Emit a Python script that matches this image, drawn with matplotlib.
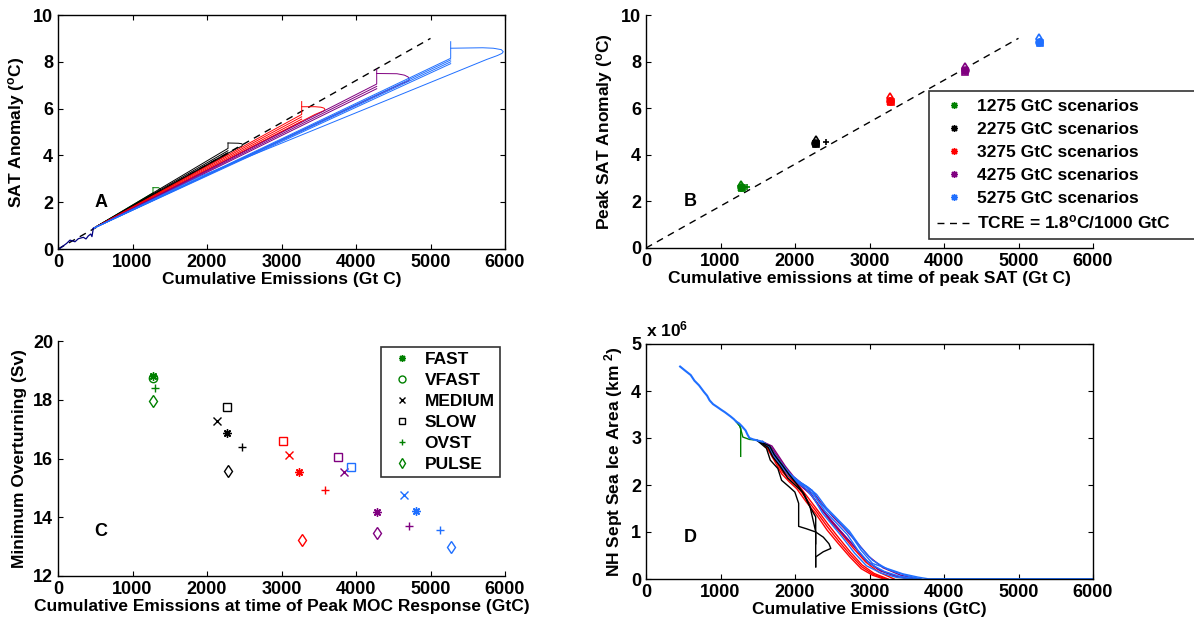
import matplotlib.pyplot as plt
from matplotlib.lines import Line2D

plt.rcParams['font.family'] = ['Liberation Sans', 'DejaVu Sans']
plt.rcParams['font.weight'] = 'bold'
plt.rcParams['axes.labelweight'] = 'bold'
plt.rcParams['mathtext.default'] = 'regular'
plt.rcParams['font.size'] = 12.5
plt.rcParams['axes.linewidth'] = 1.0
plt.rcParams['xtick.direction'] = 'in'
plt.rcParams['ytick.direction'] = 'in'
plt.rcParams['xtick.major.size'] = 3.5
plt.rcParams['ytick.major.size'] = 3.5
plt.rcParams['xtick.labelsize'] = 13
plt.rcParams['ytick.labelsize'] = 13

GREEN = '#008000'
BLACK = '#000000'
RED = '#ff0000'
PURPLE = '#800080'
BLUE = '#1f6fff'
NAVY = '#000080'
ASTER = (8, 2, 0)

# ---------------- data ----------------
tcre_e = [0, 5000]
tcre_t = [0, 9.0]

# panel A: SAT anomaly vs cumulative emissions
hist_e = [0, 27, 116, 161, 228, 273, 340, 376, 407, 439, 456, 474]
hist_t = [0, 0.03, 0.24, 0.38, 0.31, 0.44, 0.50, 0.43, 0.56, 0.64, 0.53, 0.88]

sat1275 = [([1275, 1275], [2.40, 2.62]), ([1275], [2.35]),
           ([1330, 1365, 1375, 1350, 1275], [2.45, 2.50, 2.56, 2.62, 2.62])]
sat2275 = [([2282, 2282], [4.30, 4.53]), ([2282], [4.20]), ([2282], [4.12]), ([2282], [4.05]),
           ([2400, 2460, 2479, 2465, 2420, 2282], [4.30, 4.38, 4.45, 4.50, 4.52, 4.53])]
sat3275 = [([3271, 3271], [5.75, 6.30]), ([3271], [5.65]), ([3271], [5.55]), ([3271], [5.45]),
           ([3450, 3540, 3575, 3584, 3570, 3530, 3450, 3271],
            [5.75, 5.87, 5.92, 5.97, 6.02, 6.06, 6.08, 6.08])]
sat4275 = [([4278, 4278], [7.05, 7.68]), ([4278], [6.95]), ([4278], [6.85]),
           ([4600, 4680, 4712, 4715, 4700, 4650, 4550, 4278],
            [7.05, 7.15, 7.20, 7.25, 7.35, 7.43, 7.49, 7.50])]
sat5275 = [([5271, 5271], [8.15, 8.86]), ([5271], [8.08]), ([5271], [8.00]), ([5271], [7.92]),
           ([1906, 5754, 5900, 5960, 5977, 5950, 5843, 5700, 5271],
            [3.10, 8.10, 8.27, 8.36, 8.43, 8.52, 8.58, 8.60, 8.58])]

# panel B / C scenario order: FAST, VFAST, MEDIUM, SLOW, OVST, PULSE
groups = ['1275', '2275', '3275', '4275', '5275']
group_colors = [GREEN, BLACK, RED, PURPLE, BLUE]
scen_names = ['FAST', 'VFAST', 'MEDIUM', 'SLOW', 'OVST', 'PULSE']
scen_markers = [ASTER, 'o', 'x', 's', '+', 'd']

peak_e_1275 = [1275, 1272, 1278, 1285, 1350, 1275]
peak_t_1275 = [2.62, 2.60, 2.58, 2.56, 2.62, 2.66]
peak_e_2275 = [2278, 2275, 2280, 2285, 2416, 2278]
peak_t_2275 = [4.52, 4.50, 4.48, 4.45, 4.54, 4.60]
peak_e_3275 = [3275, 3272, 3278, 3282, 3280, 3275]
peak_t_3275 = [6.34, 6.30, 6.28, 6.25, 6.36, 6.42]
peak_e_4275 = [4282, 4278, 4285, 4288, 4284, 4280]
peak_t_4275 = [7.65, 7.62, 7.60, 7.57, 7.66, 7.73]
peak_e_5275 = [5281, 5278, 5284, 5288, 5285, 5280]
peak_t_5275 = [8.86, 8.83, 8.80, 8.78, 8.87, 8.95]

nan = float('nan')
moc_e_fast = [1274, 2271, 3241, 4279, 4803]
moc_v_fast = [18.81, 16.86, 15.55, 14.18, 14.20]
moc_e_vfast = [1276, nan, nan, nan, nan]
moc_v_vfast = [18.74, nan, nan, nan, nan]
moc_e_medium = [nan, 2137, 3098, 3843, 4649]
moc_v_medium = [nan, 17.27, 16.12, 15.53, 14.75]
moc_e_slow = [nan, 2265, 3021, 3765, 3935]
moc_v_slow = [nan, 17.75, 16.61, 16.05, 15.70]
moc_e_ovst = [1300, 2476, 3586, 4706, 5127]
moc_v_ovst = [18.41, 16.40, 14.92, 13.69, 13.58]
moc_e_pulse = [1274, 2276, 3277, 4279, 5281]
moc_v_pulse = [17.97, 15.57, 13.21, 13.45, 12.99]

# panel D: NH September sea ice area (10^6 km2)
trunk_e = [458, 520, 600, 650, 712, 778, 820, 854, 900, 956, 1010, 1058, 1134, 1180, 1210,
           1250, 1287, 1337, 1360, 1388, 1440, 1490, 1566]
trunk_a = [4.52, 4.44, 4.34, 4.22, 4.12, 3.98, 3.90, 3.80, 3.72, 3.66, 3.60, 3.55, 3.46, 3.40, 3.35,
           3.31, 3.25, 3.16, 3.08, 3.00, 2.97, 2.95, 2.92]

ice_green = [([1210, 1261, 1271, 1271], [3.35, 3.25, 3.20, 2.61]),
             ([1210, 1261, 1300, 1388, 1450], [3.35, 3.25, 3.02, 2.97, 2.96])]
ice_black = [([1490, 1617, 1668, 1770, 1820, 1922, 1998, 2049, 2049, 2151, 2278, 2380, 2456, 2481, 2380, 2278, 2278],
              [2.95, 2.78, 2.53, 2.35, 2.10, 1.96, 1.85, 1.61, 1.12, 1.07, 1.00, 0.89, 0.75, 0.65, 0.58, 0.47, 0.26]),
             ([1490, 1640, 1700, 1800, 1900, 2000, 2100, 2202, 2278, 2278],
              [2.95, 2.80, 2.60, 2.40, 2.15, 2.00, 1.85, 1.53, 1.32, 0.26]),
             ([1490, 1660, 1720, 1830, 1922, 2024, 2126, 2200, 2253, 2278, 2278],
              [2.95, 2.83, 2.65, 2.42, 2.22, 2.02, 1.80, 1.55, 1.18, 1.00, 0.75])]
ice_red = [([1566, 1642, 1719, 1820, 1922, 2024, 2151, 2278, 2431, 2583, 2736, 2888, 3041, 3193],
            [2.92, 2.74, 2.53, 2.24, 2.07, 1.92, 1.64, 1.39, 1.04, 0.75, 0.47, 0.22, 0.08, 0.0]),
           ([1566, 1650, 1730, 1830, 1935, 2040, 2165, 2290, 2440, 2590, 2745, 2895, 3050, 3220],
            [2.92, 2.75, 2.55, 2.28, 2.10, 1.95, 1.68, 1.43, 1.10, 0.80, 0.51, 0.26, 0.10, 0.0]),
           ([1566, 1660, 1740, 1840, 1950, 2060, 2180, 2300, 2450, 2600, 2750, 2900, 3060, 3250],
            [2.92, 2.76, 2.58, 2.32, 2.12, 1.97, 1.72, 1.47, 1.15, 0.85, 0.56, 0.30, 0.12, 0.0]),
           ([1566, 1680, 1760, 1860, 1970, 2090, 2210, 2330, 2480, 2630, 2780, 2950, 3120, 3330],
            [2.92, 2.80, 2.62, 2.38, 2.16, 2.00, 1.80, 1.55, 1.22, 0.95, 0.66, 0.36, 0.15, 0.0])]
ice_purple = [([1566, 1670, 1750, 1850, 1960, 2070, 2200, 2320, 2470, 2620, 2780, 2940, 3120, 3350, 3550],
               [2.92, 2.82, 2.62, 2.38, 2.15, 2.00, 1.85, 1.56, 1.28, 1.00, 0.72, 0.42, 0.20, 0.06, 0.0]),
              ([1566, 1690, 1770, 1870, 1980, 2100, 2230, 2350, 2500, 2660, 2820, 2990, 3180, 3420, 3650],
               [2.92, 2.83, 2.64, 2.40, 2.18, 2.02, 1.88, 1.62, 1.34, 1.08, 0.80, 0.48, 0.24, 0.08, 0.0]),
              ([1566, 1675, 1755, 1858, 1965, 2080, 2210, 2335, 2485, 2640, 2800, 2965, 3150, 3380, 3600],
               [2.92, 2.80, 2.60, 2.35, 2.13, 1.98, 1.80, 1.52, 1.24, 0.97, 0.68, 0.38, 0.17, 0.05, 0.0])]
ice_blue = [([1566, 1668, 1719, 1820, 1922, 2024, 2126, 2227, 2304, 2431, 2532, 2634, 2736, 2888, 3041, 3244, 3448, 3651, 3804, 6000],
             [2.92, 2.81, 2.67, 2.46, 2.24, 2.10, 2.00, 1.89, 1.68, 1.46, 1.32, 1.14, 0.97, 0.61, 0.33, 0.22, 0.11, 0.04, 0.0, 0.0]),
            ([1566, 1660, 1730, 1830, 1940, 2050, 2160, 2270, 2400, 2550, 2700, 2850, 3000, 3200, 3400, 3650],
             [2.92, 2.80, 2.62, 2.40, 2.20, 2.05, 1.95, 1.75, 1.45, 1.20, 0.95, 0.60, 0.33, 0.16, 0.06, 0.0]),
            ([1566, 1650, 1725, 1825, 1930, 2040, 2140, 2250, 2370, 2500, 2640, 2800, 2960, 3150, 3350, 3560],
             [2.92, 2.80, 2.60, 2.38, 2.18, 2.04, 1.93, 1.72, 1.40, 1.15, 0.88, 0.55, 0.28, 0.13, 0.04, 0.0]),
            ([1566, 1655, 1735, 1835, 1945, 2060, 2170, 2290, 2420, 2580, 2730, 2880, 3040, 3250, 3480, 3700],
             [2.92, 2.81, 2.63, 2.42, 2.22, 2.07, 1.96, 1.80, 1.52, 1.26, 1.02, 0.68, 0.40, 0.20, 0.08, 0.0])]

# ---------------- figure ----------------
fig = plt.figure(figsize=(11.94, 6.24), dpi=100)
W, H = 1194, 624


def add_axes(l, t, r, b):
    return fig.add_axes([l / W, 1 - b / H, (r - l) / W, (b - t) / H])


axA = add_axes(58, 15, 505, 249)
axB = add_axes(646, 15, 1093, 248)
axC = add_axes(58, 341, 505, 576)
axD = add_axes(646, 344, 1093, 579)

for ax in (axA, axD):
    ax.tick_params(top=True, right=True)
for ax in (axB, axC):
    ax.spines['top'].set_visible(False)
    ax.spines['right'].set_visible(False)

# panel A
axA.plot(tcre_e, tcre_t, '--', color='k', lw=1.0, dashes=(5, 4))
x0, y0 = hist_e[-1], hist_t[-1]
for lines, col in zip([sat1275, sat2275, sat3275, sat4275, sat5275], group_colors):
    for xs, ys in lines:
        axA.plot([x0] + xs, [y0] + ys, color=col, lw=0.7)
axA.plot(hist_e, hist_t, color=NAVY, lw=0.9)
axA.set_xlim(0, 6000)
axA.set_ylim(0, 10)
axA.set_xticks(range(0, 6001, 1000))
axA.set_yticks(range(0, 11, 2))
axA.set_xlabel('Cumulative Emissions (Gt C)', labelpad=1)
axA.set_ylabel('SAT Anomaly ($^o$C)', labelpad=4)
axA.text(580, 2.0, 'A', fontsize=13, fontweight='bold', ha='center', va='center')

# panel B
peak_e = [peak_e_1275, peak_e_2275, peak_e_3275, peak_e_4275, peak_e_5275]
peak_t = [peak_t_1275, peak_t_2275, peak_t_3275, peak_t_4275, peak_t_5275]
axB.plot(tcre_e, tcre_t, '--', color='k', lw=1.0, dashes=(5, 4))
for es, ts, col in zip(peak_e, peak_t, group_colors):
    for e, t, m in zip(es, ts, scen_markers):
        axB.plot(e, t, marker=m, color=col, mfc='none', ms=5, mew=1.2, ls='none')
axB.set_xlim(0, 6000)
axB.set_ylim(0, 10)
axB.set_xticks(range(0, 6001, 1000))
axB.set_yticks(range(0, 11, 2))
axB.set_xlabel('Cumulative emissions at time of peak SAT (Gt C)', labelpad=1)
axB.set_ylabel('Peak SAT Anomaly ($^o$C)', labelpad=4)
axB.text(590, 2.0, 'B', fontsize=13, fontweight='bold', ha='center', va='center')
handlesB = [Line2D([], [], marker=ASTER, color=c, ls='none', ms=5, mew=1.0) for c in group_colors]
handlesB.append(Line2D([], [], color='k', ls='--', lw=1.0, dashes=(5, 4)))
labelsB = [g + ' GtC scenarios' for g in groups] + ['TCRE = 1.8$^o$C/1000 GtC']
legB = fig.legend(handlesB, labelsB, loc='upper left',
                  bbox_to_anchor=(929 / W, 1 - 241 / H, 280 / W, 150 / H), mode='expand',
                  fontsize=12.5, frameon=True, fancybox=False, edgecolor='k',
                  handlelength=2.0, handletextpad=0.3, labelspacing=0.45, borderpad=0.45,
                  borderaxespad=0)
legB.get_frame().set_linewidth(1.2)

# panel C
moc_e = [moc_e_fast, moc_e_vfast, moc_e_medium, moc_e_slow, moc_e_ovst, moc_e_pulse]
moc_v = [moc_v_fast, moc_v_vfast, moc_v_medium, moc_v_slow, moc_v_ovst, moc_v_pulse]
for es, vs, m in zip(moc_e, moc_v, scen_markers):
    for e, v, col in zip(es, vs, group_colors):
        axC.plot(e, v, marker=m, color=col, mfc='none', ms=6, mew=1.0, ls='none')
axC.set_xlim(0, 6000)
axC.set_ylim(12, 20)
axC.set_xticks(range(0, 6001, 1000))
axC.set_yticks(range(12, 21, 2))
axC.set_xlabel('Cumulative Emissions at time of Peak MOC Response (GtC)', labelpad=1)
axC.set_ylabel('Minimum Overturning (Sv)', labelpad=4)
axC.text(580, 13.5, 'C', fontsize=13, fontweight='bold', ha='center', va='center')
legC_colors = [GREEN, GREEN, BLACK, BLACK, GREEN, GREEN]
handlesC = [Line2D([], [], marker=m, color=c, mfc='none', ms=5, mew=1.0, ls='none')
            for m, c in zip(scen_markers, legC_colors)]
legC = fig.legend(handlesC, scen_names, loc='upper left', bbox_to_anchor=(381 / W, 1 - 347 / H),
                  fontsize=12.5, frameon=True, fancybox=False, edgecolor='k',
                  handlelength=1.8, handletextpad=0.4, labelspacing=0.33, borderpad=0.3,
                  borderaxespad=0)
legC.get_frame().set_linewidth(1.2)

# panel D
for lines, col in [(ice_red, RED), (ice_purple, PURPLE), (ice_blue, BLUE),
                   (ice_black, BLACK), (ice_green, GREEN)]:
    for xs, ys in lines:
        axD.plot(xs, ys, color=col, lw=1.0)
axD.plot(trunk_e, trunk_a, color=BLUE, lw=1.5)
axD.plot([3804, 6000], [0, 0], color=BLUE, lw=1.8)
axD.set_xlim(0, 6000)
axD.set_ylim(0, 5)
axD.set_xticks(range(0, 6001, 1000))
axD.set_yticks(range(0, 6))
axD.set_xlabel('Cumulative Emissions (GtC)', labelpad=1)
axD.set_ylabel('NH Sept Sea Ice Area (km $^2$)', labelpad=4)
axD.text(0, 1.02, 'x 10$^6$', transform=axD.transAxes, ha='left', va='bottom', fontsize=12.5)
axD.text(600, 0.88, 'D', fontsize=13, fontweight='bold', ha='center', va='center')

fig.savefig('out.png', dpi=100)
